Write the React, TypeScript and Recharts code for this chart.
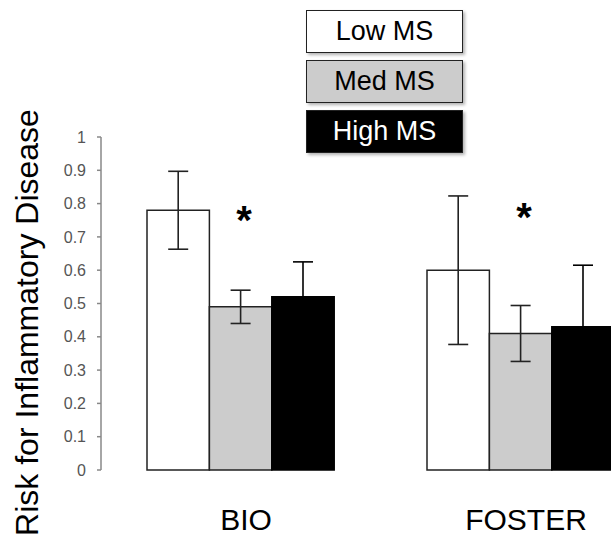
import React from "react";
import {
  ComposedChart,
  Bar,
  XAxis,
  YAxis,
  ErrorBar,
  ReferenceDot,
} from "recharts";

const categories = ["BIO", "FOSTER"];
const lowMS = [0.78, 0.6];
const lowErr = [0.117, 0.223];
const medMS = [0.49, 0.41];
const medErr = [0.05, 0.084];
const highMS = [0.52, 0.43];
const highErr = [0.105, 0.185];
// level of the significance star above each group
const starLevel = [0.775, 0.784];
const yTicks = [0, 0.1, 0.2, 0.3, 0.4, 0.5, 0.6, 0.7, 0.8, 0.9, 1];

const series = [
  { key: "low", name: "Low MS", fill: "#ffffff", text: "#000000" },
  { key: "med", name: "Med MS", fill: "#cccccc", text: "#000000" },
  { key: "high", name: "High MS", fill: "#000000", text: "#ffffff" },
];

const data = categories.map((c, i) => ({
  name: c,
  low: lowMS[i],
  lowErr: lowErr[i],
  med: medMS[i],
  medErr: medErr[i],
  high: highMS[i],
  highErr: highErr[i],
}));

const FONT = '"Liberation Sans", Arial, sans-serif';

function CategoryTick({ x, y, payload }: any) {
  return (
    <text x={x + 5} y={y + 52} textAnchor="middle" fontSize={30} fontFamily={FONT} fill="#000">
      {payload.value}
    </text>
  );
}

function Star({ cx, cy }: any) {
  return (
    <text
      x={cx + 3}
      y={cy + 22}
      textAnchor="middle"
      fontSize={40}
      fontWeight="bold"
      fontFamily={FONT}
      fill="#000"
    >
      *
    </text>
  );
}

function LegendBoxes() {
  return (
    <div style={{ position: "absolute", left: 306, top: 10, width: 157 }}>
      {series.map((s) => (
        <div
          key={s.key}
          style={{
            height: 41,
            marginBottom: 7,
            background: s.fill,
            color: s.text,
            border: "1.5px solid #222",
            boxShadow: "2px 2px 3px rgba(0,0,0,0.3)",
            fontFamily: FONT,
            fontSize: 27,
            lineHeight: "41px",
            textAlign: "center",
          }}
        >
          {s.name}
        </div>
      ))}
    </div>
  );
}

export default function App() {
  return (
    <div
      style={{
        position: "absolute",
        left: 0,
        top: 0,
        width: 611,
        height: 535,
        overflow: "hidden",
        background: "#fff",
      }}
    >
      <ComposedChart
        width={661}
        height={535}
        data={data}
        margin={{ top: 137, right: 0, left: 0, bottom: 0 }}
        barSize={62.4}
        barGap={0}
      >
        <XAxis
          dataKey="name"
          axisLine={false}
          tickLine={false}
          height={65}
          tick={<CategoryTick />}
          interval={0}
        />
        <YAxis
          width={101}
          domain={[0, 1]}
          ticks={yTicks}
          interval={0}
          tickSize={4}
          tickMargin={11}
          axisLine={{ stroke: "#888", strokeWidth: 1.5 }}
          tickLine={{ stroke: "#888", strokeWidth: 1.5 }}
          tick={{ fontSize: 16, fill: "#555", fontFamily: FONT }}
          label={({ viewBox }: any) => {
            const cy = viewBox.y + viewBox.height / 2 + 19;
            return (
              <text
                x={38}
                y={cy}
                transform={`rotate(-90, 38, ${cy})`}
                textAnchor="middle"
                fontSize={32}
                fontFamily={FONT}
                fill="#000"
              >
                Risk for Inflammatory Disease
              </text>
            );
          }}
        />
        <Bar dataKey="low" name="Low MS" fill="#ffffff" stroke="#222" strokeWidth={1.5} isAnimationActive={false}>
          <ErrorBar dataKey="lowErr" width={10} stroke="#222" strokeWidth={1.6} direction="y" />
        </Bar>
        <Bar dataKey="med" name="Med MS" fill="#cccccc" stroke="#222" strokeWidth={1.5} isAnimationActive={false}>
          <ErrorBar dataKey="medErr" width={10} stroke="#222" strokeWidth={1.6} direction="y" />
        </Bar>
        <Bar dataKey="high" name="High MS" fill="#000000" stroke="#000" strokeWidth={1.5} isAnimationActive={false}>
          <ErrorBar dataKey="highErr" width={10} stroke="#000" strokeWidth={1.6} direction="y" />
        </Bar>
        {categories.map((c, i) => (
          <ReferenceDot key={c} x={c} y={starLevel[i]} r={0} shape={<Star />} />
        ))}
      </ComposedChart>
      <LegendBoxes />
    </div>
  );
}
